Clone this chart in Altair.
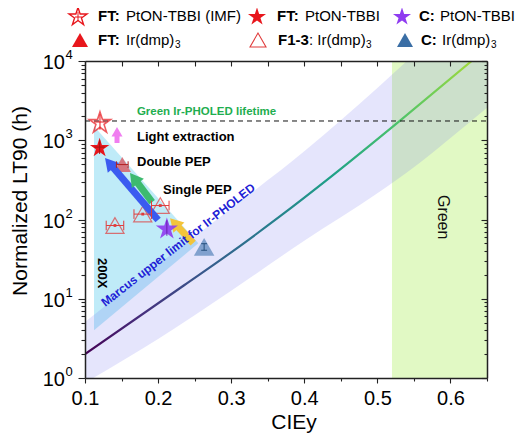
import math
import altair as alt
import pandas as pd

# ---------------- geometry of the plot area ----------------
W, H = 402, 317
X0, X1 = 0.1, 0.65
YLO, YHI = 1, 10000
PXX = W / (X1 - X0)
PXD = H / 4.0
FONT = "Liberation Sans"

# ---------------- data ----------------
# Marcus upper-limit curve
curve_cie = [0.100, 0.2356, 0.2918, 0.367, 0.438, 0.5315, 0.629]
curve_lt = [2.0, 14.8, 34, 110, 355, 1780, 10000]

# shaded band around the curve
band_cie = [0.10, 0.20, 0.30, 0.40, 0.50, 0.55, 0.60, 0.65]
band_low = [0.87, 3.1, 12.6, 54, 214, 457, 1070, 2570]
band_high = [5.1, 27, 138, 724, 4570, 12000, 30000, 80000]

# "200X" cyan triangle
cyan_cie = [0.1123, 0.255]
cyan_low = [4.0, 50]
cyan_high = [1500, 50]

# green region and lifetime line
green_cie = [0.52, 0.65]
lifetime = 1750

# markers
imf_star_x, imf_star_y = [0.1205], [1700]
ft_star_x, ft_star_y = [0.120], [820]
c_star_x, c_star_y = [0.212], [78]
ft_tri_x, ft_tri_y = [0.151], [493]
f13_x, f13_y = [0.141, 0.179, 0.203], [84, 117, 150]
f13_xerr = [0.012, 0.012, 0.012]
c_tri_x, c_tri_y = [0.263], [45]

# arrows (tail -> tip)
arrow_tail_x = [0.1438, 0.200, 0.1918, 0.248]
arrow_tail_y = [923, 98.6, 166, 50.5]
arrow_tip_x = [0.1438, 0.1274, 0.1616, 0.2164]
arrow_tip_y = [1470, 597, 386, 104]
arrow_color = ["#f07ef0", "#3b5bf0", "#3dba6f", "#f3c43b"]
arrow_shaft = [5, 7, 7, 7]
arrow_head = [11, 15, 15, 15]

# axis ticks
x_ticks = [round(0.1 + 0.05 * i, 2) for i in range(12)]
y_ticks = [k * 10 ** e for e in range(4) for k in range(1, 10)] + [10000]
y_decades = [1, 10, 100, 1000, 10000]
y_exps = ["0", "1", "2", "3", "4"]

STAR = ("M0,-0.9045L0.2245,-0.2135L0.9511,-0.2135L0.3633,0.2135L0.5878,0.9045"
        "L0,0.4775L-0.5878,0.9045L-0.3633,0.2135L-0.9511,-0.2135L-0.2245,-0.2135Z")

xs = alt.Scale(domain=[X0, X1], nice=False, zero=False)
ys = alt.Scale(type="log", domain=[YLO, YHI], nice=False)


def ex(f, axis=None):
    return alt.X(f, type="quantitative", scale=xs, axis=axis)


def ey(f, axis=None):
    return alt.Y(f, type="quantitative", scale=ys, axis=axis)


MAJX = "abs(datum.value*10 - round(datum.value*10)) < 0.001"
MAJY = "abs(log(datum.value)/LN10 - round(log(datum.value)/LN10)) < 0.001"
common_axis = dict(title=None, grid=False, domainColor="#222", domainWidth=1.5,
                   tickColor="#222", tickWidth=1.1, zindex=2)
bottom_axis = alt.Axis(orient="bottom", values=x_ticks,
                       labelExpr=f"{MAJX} ? format(datum.value, '.1f') : ''",
                       labelFlush=False, labelOverlap=False, labelFont=FONT,
                       labelFontSize=20, labelColor="#000", labelPadding=5,
                       tickSize={"expr": f"{MAJX} ? 5 : 3"}, **common_axis)
top_axis = alt.Axis(orient="top", values=x_ticks, labels=False,
                    tickSize={"expr": "-5"}, **common_axis)
left_axis = alt.Axis(orient="left", values=y_ticks, labels=False,
                     tickSize={"expr": f"{MAJY} ? 7 : 4"}, **common_axis)
right_axis = alt.Axis(orient="right", values=y_ticks, labels=False,
                      tickSize={"expr": f"{MAJY} ? -6 : -3"}, **common_axis)

layers = []

# green region (carries bottom/left axes)
layers.append(alt.Chart(pd.DataFrame({"x": [green_cie[0]], "x2": [green_cie[1]],
                                      "y": [YLO], "y2": [YHI]}))
              .mark_rect(color="#e1f9c4")
              .encode(x=ex("x", bottom_axis), x2="x2", y=ey("y", left_axis), y2="y2"))

# cyan triangle
layers.append(alt.Chart(pd.DataFrame({"x": cyan_cie, "lo": cyan_low, "hi": cyan_high}))
              .mark_area(color="#bfebf8", clip=True)
              .encode(x=ex("x"), y=ey("lo"), y2="hi"))

# band
layers.append(alt.Chart(pd.DataFrame({"x": band_cie, "lo": band_low, "hi": band_high}))
              .mark_area(color="#6e6ef0", opacity=0.18, clip=True, interpolate="monotone")
              .encode(x=ex("x"), y=ey("lo"), y2="hi"))

# gradient curve
grad = alt.LinearGradient(
    gradient="linear",
    stops=[alt.GradientStop(color=c, offset=o) for o, c in [
        (0.0, "#440154"), (0.15, "#46307e"), (0.32, "#365c8d"), (0.48, "#277f8e"),
        (0.64, "#1fa187"), (0.8, "#4ac16d"), (0.92, "#7ad151"), (1.0, "#a2d93a")]],
    x1=0, x2=1, y1=1, y2=1)
layers.append(alt.Chart(pd.DataFrame({"x": curve_cie, "y": curve_lt}))
              .mark_line(color=grad, strokeWidth=2.2, clip=True, interpolate="monotone")
              .encode(x=ex("x"), y=ey("y"), order="x:Q"))

# dashed lifetime line (carries top/right axes)
layers.append(alt.Chart(pd.DataFrame({"x": [X0], "x2": [X1], "y": [lifetime]}))
              .mark_rule(color="#111", strokeDash=[5, 4], strokeWidth=1)
              .encode(x=ex("x", top_axis), x2="x2", y=ey("y", right_axis)))

# ---- error bars ----
hb = []  # horizontal bars
vb = []  # vertical bars
for i in range(len(f13_x)):
    hb.append(dict(x=f13_x[i] - f13_xerr[i], x2=f13_x[i] + f13_xerr[i], y=f13_y[i], c="#e03c3c"))
    for s in (-1, 1):
        xx = f13_x[i] + s * f13_xerr[i]
        vb.append(dict(x=xx, y=f13_y[i] / 1.15, y2=f13_y[i] * 1.15, c="#e03c3c"))
hb.append(dict(x=ft_tri_x[0] - 0.008, x2=ft_tri_x[0] + 0.008, y=ft_tri_y[0], c="#b02020"))
for s in (-1, 1):
    vb.append(dict(x=ft_tri_x[0] + s * 0.008, y=ft_tri_y[0] / 1.1, y2=ft_tri_y[0] * 1.1, c="#b02020"))
hb.append(dict(x=imf_star_x[0] - 0.008, x2=imf_star_x[0] + 0.008, y=imf_star_y[0], c="#e8161c"))
vb.append(dict(x=imf_star_x[0], y=imf_star_y[0] / 1.25, y2=imf_star_y[0] * 1.25, c="#e8161c"))
hb.append(dict(x=ft_star_x[0] - 0.007, x2=ft_star_x[0] + 0.007, y=ft_star_y[0], c="#a51515"))
vb.append(dict(x=ft_star_x[0], y=ft_star_y[0] / 1.22, y2=ft_star_y[0] * 1.22, c="#a51515"))
vb.append(dict(x=c_star_x[0], y=c_star_y[0] / 1.25, y2=c_star_y[0] * 1.25, c="#6a1fb0"))
vb.append(dict(x=c_tri_x[0], y=c_tri_y[0] / 1.1, y2=c_tri_y[0] * 1.1, c="#27507e"))
hb.append(dict(x=c_tri_x[0] - 0.004, x2=c_tri_x[0] + 0.004, y=c_tri_y[0] / 1.1, c="#27507e"))
hb.append(dict(x=c_tri_x[0] - 0.004, x2=c_tri_x[0] + 0.004, y=c_tri_y[0] * 1.1, c="#27507e"))

# open triangles F1-3
layers.append(alt.Chart(pd.DataFrame({"x": f13_x, "y": f13_y}))
              .mark_point(shape="triangle-up", filled=False, color="#e03c3c",
                          strokeWidth=1.2, size=330)
              .encode(x=ex("x"), y=ey("y")))
layers.append(alt.Chart(pd.DataFrame({"x": f13_x, "y": f13_y}))
              .mark_point(shape="square", filled=True, color="#e03c3c", size=8, opacity=1)
              .encode(x=ex("x"), y=ey("y")))
# FT Ir(dmp)3 triangle
layers.append(alt.Chart(pd.DataFrame({"x": ft_tri_x, "y": ft_tri_y}))
              .mark_point(shape="triangle-up", filled=True, color="#e8161c",
                          opacity=0.55, size=300)
              .encode(x=ex("x"), y=ey("y")))
# C Ir(dmp)3 triangle
layers.append(alt.Chart(pd.DataFrame({"x": c_tri_x, "y": c_tri_y}))
              .mark_point(shape="triangle-up", filled=True, color="#2f6aa8",
                          opacity=0.55, size=420)
              .encode(x=ex("x"), y=ey("y")))

# arrows
arows = []
for i in range(len(arrow_tail_x)):
    tx, ty = (arrow_tail_x[i] - X0) * PXX, -math.log10(arrow_tail_y[i]) * PXD
    hx, hy = (arrow_tip_x[i] - X0) * PXX, -math.log10(arrow_tip_y[i]) * PXD
    dx, dy = hx - tx, hy - ty
    L = math.hypot(dx, dy)
    ux, uy = dx / L, dy / L
    hw = arrow_head[i]
    hh = math.sqrt(3) / 4 * hw
    cx, cy = hx - ux * hh, hy - uy * hh
    sx, sy = hx - ux * hh * 1.3, hy - uy * hh * 1.3
    arows.append(dict(x=arrow_tail_x[i], y=arrow_tail_y[i],
                      x2=X0 + sx / PXX, y2=10 ** (-sy / PXD),
                      hx=X0 + cx / PXX, hy=10 ** (-cy / PXD),
                      ang=math.degrees(math.atan2(ux, -uy)) % 360,
                      hs=hw * hw, c=arrow_color[i], w=arrow_shaft[i]))
adf = pd.DataFrame(arows)
layers.append(alt.Chart(adf).mark_rule(strokeCap="butt")
              .encode(x=ex("x"), y=ey("y"), x2="x2", y2="y2",
                      color=alt.Color("c:N", scale=None),
                      strokeWidth=alt.StrokeWidth("w:Q", scale=None)))
layers.append(alt.Chart(adf).mark_point(shape="triangle-up", filled=True, opacity=1)
              .encode(x=ex("hx"), y=ey("hy"),
                      color=alt.Color("c:N", scale=None),
                      angle=alt.Angle("ang:Q", scale=None),
                      size=alt.Size("hs:Q", scale=None)))

# stars
layers.append(alt.Chart(pd.DataFrame({"x": imf_star_x, "y": imf_star_y}))
              .mark_point(shape=STAR, filled=False, color="#e8161c", strokeWidth=1.6, size=500)
              .encode(x=ex("x"), y=ey("y")))
layers.append(alt.Chart(pd.DataFrame({"x": ft_star_x, "y": ft_star_y}))
              .mark_point(shape=STAR, filled=True, color="#e8161c", opacity=1, size=420)
              .encode(x=ex("x"), y=ey("y")))
layers.append(alt.Chart(pd.DataFrame({"x": c_star_x, "y": c_star_y}))
              .mark_point(shape=STAR, filled=True, color="#8f3cf0", opacity=0.9, size=540)
              .encode(x=ex("x"), y=ey("y")))

# error bars on top
layers.append(alt.Chart(pd.DataFrame(hb)).mark_rule(strokeWidth=1)
              .encode(x=ex("x"), x2="x2", y=ey("y"), color=alt.Color("c:N", scale=None)))
layers.append(alt.Chart(pd.DataFrame(vb)).mark_rule(strokeWidth=1)
              .encode(x=ex("x"), y=ey("y"), y2="y2", color=alt.Color("c:N", scale=None)))

# ---- annotations (data coordinates) ----
ann_text = ["Green Ir-PHOLED lifetime", "Light extraction", "Double PEP", "Single PEP",
            "200X", "Marcus upper limit for Ir-PHOLED", "Green"]
ann_x = [0.171, 0.1712, 0.1712, 0.2068, 0.1233, 0.2274, 0.590]
ann_y = [2270, 1100, 532, 236, 21, 47.7, 107]
ann_style = [
    dict(fontSize=11.5, fontWeight="bold", color="#1fae50", align="left", angle=0),
    dict(fontSize=13, fontWeight="bold", color="#000", align="left", angle=0),
    dict(fontSize=13, fontWeight="bold", color="#000", align="left", angle=0),
    dict(fontSize=13, fontWeight="bold", color="#000", align="left", angle=0),
    dict(fontSize=13, fontWeight="bold", color="#000", align="center", angle=90),
    dict(fontSize=12, fontWeight="bold", color="#2121d6", align="center", angle=322),
    dict(fontSize=16, fontWeight="normal", color="#111", align="center", angle=90),
]
for t, x, y, st in zip(ann_text, ann_x, ann_y, ann_style):
    layers.append(alt.Chart(pd.DataFrame({"x": [x], "y": [y], "t": [t]}))
                  .mark_text(font=FONT, baseline="middle", **st)
                  .encode(x=ex("x"), y=ey("y"), text="t:N"))

# ---- y axis labels 10^n ----
ydf = pd.DataFrame({"v": y_decades, "e": y_exps, "b": ["10"] * 5})
layers.append(alt.Chart(ydf).mark_text(font=FONT, fontSize=20, align="right",
                                       baseline="middle", dy=2, color="#000")
              .encode(x=alt.value(-20), y=ey("v"), text="b:N"))
layers.append(alt.Chart(ydf).mark_text(font=FONT, fontSize=13, align="left",
                                       baseline="middle", dy=-6, color="#000")
              .encode(x=alt.value(-19.5), y=ey("v"), text="e:N"))


# ---- pixel-positioned texts: axis titles and legend ----
def ptxt(px, py, s, size=15, weight="normal", align="left", angle=0, dy=0):
    return (alt.Chart(pd.DataFrame({"t": [s]}))
            .mark_text(font=FONT, fontSize=size, fontWeight=weight, align=align,
                       baseline="middle", angle=angle, dy=dy, color="#000")
            .encode(x=alt.value(px), y=alt.value(py), text="t:N"))


def psym(px, py, shape, color, size, filled=True, opacity=1, sw=1.4):
    return (alt.Chart(pd.DataFrame({"a": [0]}))
            .mark_point(shape=shape, filled=filled, color=color, size=size,
                        opacity=opacity, strokeWidth=sw)
            .encode(x=alt.value(px), y=alt.value(py)))


layers.append(ptxt(-64, 140, "Normalized LT90 (h)", size=21, align="center", angle=270))
layers.append(ptxt(209, 362, "CIEy", size=21, align="center"))

R1, R2 = -45, -21
layers += [
    psym(-7, R1, STAR, "#e8161c", 360, filled=False),
    psym(172, R1, STAR, "#e8161c", 360),
    psym(317, R1, STAR, "#8f3cf0", 360),
    psym(-5, R2, "triangle-up", "#e8161c", 256),
    psym(173, R2, "triangle-up", "#e03c3c", 256, filled=False, sw=1.1),
    psym(320, R2, "triangle-up", "#3a6ea5", 256),
    ptxt(13, R1, "FT:", weight="bold"), ptxt(41, R1, "PtON-TBBI (IMF)"),
    ptxt(192, R1, "FT:", weight="bold"), ptxt(220, R1, "PtON-TBBI"),
    ptxt(334, R1, "C:", weight="bold"), ptxt(355, R1, "PtON-TBBI"),
    ptxt(13, R2, "FT:", weight="bold"), ptxt(41, R2, "Ir(dmp)"), ptxt(90, R2, "3", size=10, dy=5),
    ptxt(193, R2, "F1-3", weight="bold"), ptxt(224, R2, ": Ir(dmp)"), ptxt(281, R2, "3", size=10, dy=5),
    ptxt(336, R2, "C:", weight="bold"), ptxt(357, R2, "Ir(dmp)"), ptxt(406, R2, "3", size=10, dy=5),
]
# little cross inside the IMF legend star
layers.append(alt.Chart(pd.DataFrame({"a": [0]})).mark_rule(color="#e8161c", strokeWidth=1)
              .encode(x=alt.value(-7), y=alt.value(R1 - 4), y2=alt.value(R1 + 5)))
layers.append(alt.Chart(pd.DataFrame({"a": [0]})).mark_rule(color="#e8161c", strokeWidth=1)
              .encode(x=alt.value(-10), x2=alt.value(-3), y=alt.value(R1 + 1)))

chart = (alt.layer(*layers)
         .properties(width=W, height=H, autosize=alt.AutoSizeParams(type="none"),
                     padding={"left": 77, "top": 53, "right": 30, "bottom": 58})
         .resolve_axis(x="independent", y="independent")
         .configure_view(stroke=None)
         .configure(font=FONT))

chart.save("out.html", embed_options={"renderer": "svg", "actions": False})
